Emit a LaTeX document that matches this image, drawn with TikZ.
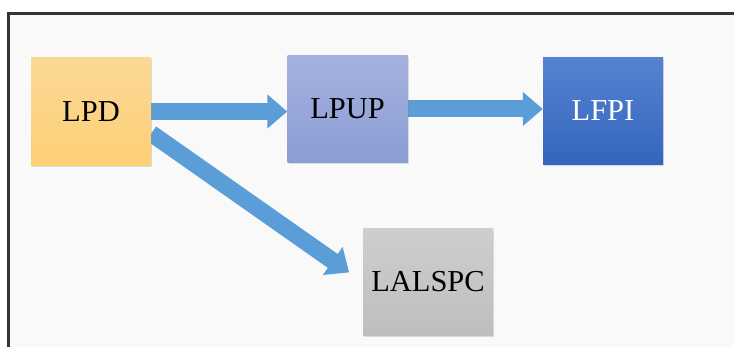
\documentclass[tikz,border=0pt]{standalone}
\usepackage{fontspec}
\setmainfont{Liberation Serif}
\usetikzlibrary{arrows.meta,shadows,backgrounds}

\definecolor{framegray}{RGB}{52,52,52}
\definecolor{bggray}{RGB}{249,249,249}
\definecolor{arrowblue}{RGB}{91,157,215}
\definecolor{lpdtop}{RGB}{251,216,148}
\definecolor{lpdbot}{RGB}{253,208,120}
\definecolor{lpuptop}{RGB}{166,178,222}
\definecolor{lpupbot}{RGB}{138,157,213}
\definecolor{lfpitop}{RGB}{86,131,208}
\definecolor{lfpibot}{RGB}{52,101,190}
\definecolor{lalspctop}{RGB}{206,206,206}
\definecolor{lalspcbot}{RGB}{190,190,190}

\begin{document}
\begin{tikzpicture}[x=0.3mm, y=-0.3mm,
    box/.style={minimum width=36mm, minimum height=32.2mm, inner sep=0pt,
        font=\fontsize{26}{30}\selectfont,
        drop shadow={opacity=0.25, shadow xshift=0.4mm, shadow yshift=-0.5mm}},
    flow/.style={line width=5.1mm, arrowblue, -{Triangle[length=6mm, width=9.9mm]}}]
    % Canvas and frame
    \useasboundingbox (0,0) rectangle (734,347);
    \begin{scope}[on background layer]
        \fill[white] (0,0) rectangle (734,347);
        \fill[bggray] (10,15) rectangle (734,347);
        \draw[line width=0.9mm, framegray] (8.5,347) -- (8.5,13.5) -- (734,13.5);
    \end{scope}

    % Boxes
    \node[box, top color=lpdtop, bottom color=lpdbot] (lpd) at (91,111.5) {LPD};
    \node[box, top color=lpuptop, bottom color=lpupbot] (lpup) at (347.5,109) {LPUP};
    \node[box, top color=lfpitop, bottom color=lfpibot, text=white] (lfpi) at (603,111) {LFPI};
    \node[box, minimum width=39mm, top color=lalspctop, bottom color=lalspcbot] (lalspc) at (428,282) {LALSPC};

    % Arrows, kept behind the boxes
    \begin{scope}[on background layer]
        \draw[flow] (lpd.east) -- (lpd.east -| lpup.west);
        \draw[flow] (lpup.east) -- (lpup.east -| lfpi.west);
        \draw[flow, shorten >=5mm] (lpd.-20) -- (lalspc.west);
    \end{scope}
\end{tikzpicture}
\end{document}
